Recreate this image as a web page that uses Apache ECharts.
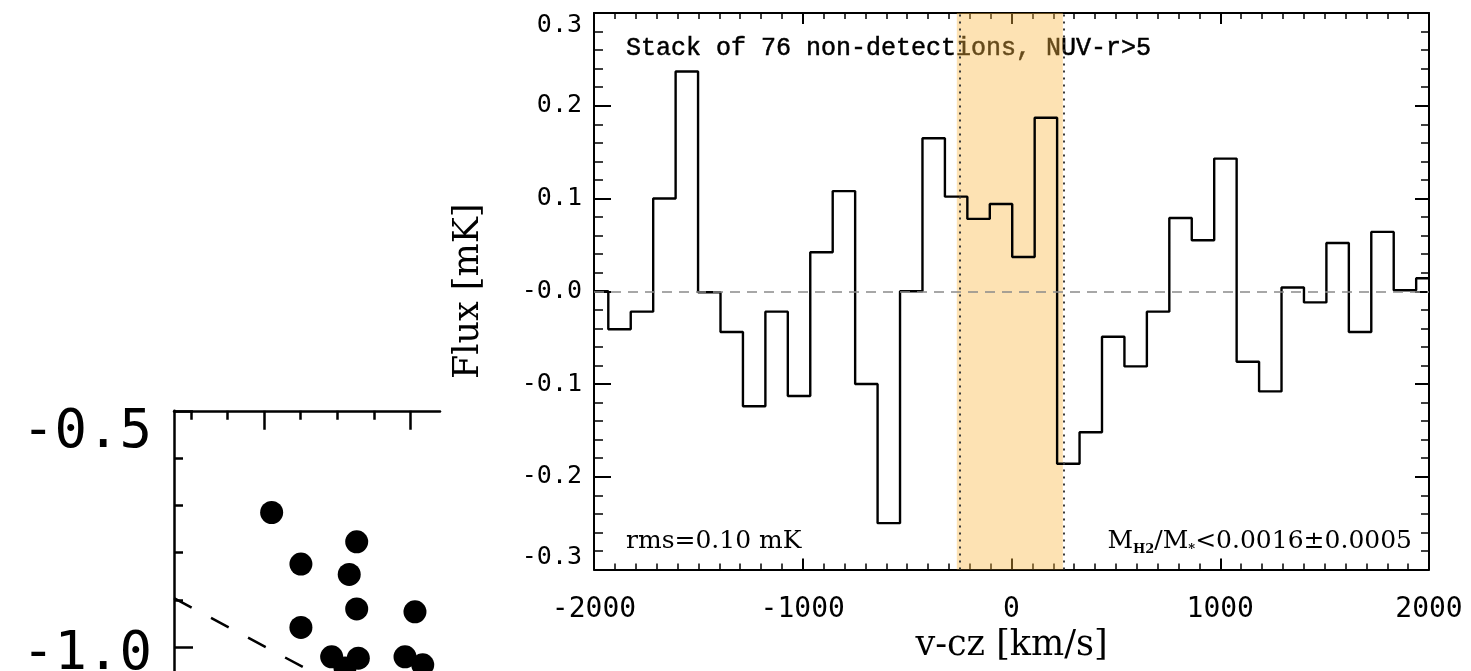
<!DOCTYPE html>
<html><head><meta charset="utf-8">
<script src="https://cdn.jsdelivr.net/npm/echarts@6/dist/echarts.min.js"></script>
<style>html,body{margin:0;padding:0;background:#fff;overflow:hidden}
#wrap{width:1471px;height:671px;overflow:hidden;position:relative}
#c{width:1471px;height:900px}</style>
</head><body><div id="wrap"><div id="c"></div></div>
<script>
// ---------- main panel data (stacked spectrum) ----------
// left edge of each velocity bin [km/s]
const binEdges = [-2000, -1931.5, -1824, -1716.5, -1609, -1501.5, -1394, -1286.5, -1179, -1071.5,
  -964, -856.5, -749, -641.5, -534, -426.5, -319, -211.5, -104, 3.5,
  111, 218.5, 326, 433.5, 541, 648.5, 756, 863.5, 971, 1078.5,
  1186, 1293.5, 1401, 1508.5, 1616, 1723.5, 1831, 1938.5];
// flux in each bin [mK]
const flux = [0.000, -0.041, -0.022, 0.100, 0.237, -0.001, -0.044, -0.124, -0.022, -0.113,
  0.042, 0.108, -0.100, -0.250, 0.000, 0.165, 0.102, 0.078, 0.094, 0.037,
  0.187, -0.186, -0.152, -0.049, -0.081, -0.022, 0.079, 0.055, 0.143, -0.076,
  -0.108, 0.004, -0.012, 0.052, -0.044, 0.064, 0.001, 0.014];
const velRange = [-2000, 2000];
const fluxRange = [-0.3, 0.3];
const bandRange = [-262, 246];      // shaded line window
const windowLines = [-248, 252];    // dotted lines
const stackLabel = 'Stack of 76 non-detections, NUV-r>5';
const rmsLabel = 'rms=0.10 mK';
const xTitle = 'v-cz [km/s]';
const yTitle = 'Flux [mK]';

// ---------- left (partial) panel data ----------
const scatterX = [5.052, 5.252, 5.633, 5.582, 5.633, 6.031, 5.252, 5.462, 5.644, 5.963, 6.084, 5.553];
const scatterY = [-0.715, -0.824, -0.777, -0.846, -0.919, -0.925, -0.958, -1.020, -1.023, -1.020, -1.037, -1.044];
const fitX = [4.385, 5.6];
const fitY = [-0.896, -1.097];
const leftXRange = [4.385, 6.202];
const leftXMajor = [5, 6];
const leftYRange = [-1.5, -0.5];

const histData = binEdges.map((e, i) => [e, flux[i]]);
histData.push([velRange[1], flux[flux.length - 1]]);

const BLACK = '#000';
const tickFont = 'DejaVu Sans Mono';

const chart = echarts.init(document.getElementById('c'), null, {renderer: 'canvas'});
const mirror = (pos, grid, extra) => Object.assign({
  gridIndex: grid, position: pos, type: 'value',
  axisLine: {show: true, onZero: false, lineStyle: {color: BLACK, width: 2}},
  axisLabel: {show: false}, splitLine: {show: false}
}, extra);

chart.setOption({
  backgroundColor: '#fff',
  animation: false,
  grid: [
    {left: 594, top: 13, width: 835, height: 556.5},
    {left: 174, top: 410.8, width: 266, height: 473}
  ],
  xAxis: [
    mirror('bottom', 0, {
      min: velRange[0], max: velRange[1], interval: 1000,
      axisTick: {inside: true, length: 11, lineStyle: {color: BLACK, width: 2}},
      minorTick: {show: true, splitNumber: 10, length: 6, lineStyle: {color: BLACK, width: 1.5}},
      axisLabel: {show: true, margin: 26, fontSize: 28, fontFamily: tickFont, color: BLACK,
        formatter: v => String(Math.round(v))},
      name: xTitle, nameLocation: 'middle', nameGap: 50,
      nameTextStyle: {fontFamily: 'DejaVu Serif', fontSize: 35, color: BLACK}
    }),
    mirror('top', 0, {
      min: velRange[0], max: velRange[1], interval: 1000,
      axisTick: {inside: true, length: 11, lineStyle: {color: BLACK, width: 2}},
      minorTick: {show: true, splitNumber: 10, length: 6, lineStyle: {color: BLACK, width: 1.5}}
    }),
    mirror('top', 1, {
      min: leftXRange[0], max: leftXRange[1], splitNumber: 2,
      axisLine: {show: true, onZero: false, lineStyle: {color: BLACK, width: 2.5}},
      axisTick: {inside: true, length: 19, customValues: leftXMajor, lineStyle: {color: BLACK, width: 2.5}},
      minorTick: {show: true, splitNumber: 4, length: 9, lineStyle: {color: BLACK, width: 2.5}}
    })
  ],
  yAxis: [
    mirror('left', 0, {
      min: fluxRange[0], max: fluxRange[1], interval: 0.1,
      axisTick: {inside: true, length: 17, lineStyle: {color: BLACK, width: 2}},
      minorTick: {show: true, splitNumber: 5, length: 9, lineStyle: {color: BLACK, width: 1.5}},
      axisLabel: {show: true, margin: 12, fontSize: 25, fontFamily: tickFont, color: BLACK,
        verticalAlignMinLabel: 'bottom', verticalAlignMaxLabel: 'top',
        formatter: v => Math.abs(v) < 1e-9 ? '-0.0' : v.toFixed(1)},
      name: yTitle, nameLocation: 'middle', nameGap: 108, nameRotate: 90,
      nameTextStyle: {fontFamily: 'DejaVu Serif', fontSize: 35, color: BLACK}
    }),
    mirror('right', 0, {
      min: fluxRange[0], max: fluxRange[1], interval: 0.1,
      axisTick: {inside: true, length: 14, lineStyle: {color: BLACK, width: 2}},
      minorTick: {show: true, splitNumber: 5, length: 8, lineStyle: {color: BLACK, width: 1.5}}
    }),
    mirror('left', 1, {
      min: leftYRange[0], max: leftYRange[1], interval: 0.5,
      axisLine: {show: true, onZero: false, lineStyle: {color: BLACK, width: 2.5}},
      axisTick: {inside: true, length: 19, lineStyle: {color: BLACK, width: 2.5}},
      minorTick: {show: true, splitNumber: 5, length: 9, lineStyle: {color: BLACK, width: 2.5}},
      axisLabel: {show: true, margin: 22,
        formatter: v => Math.abs(v + 0.5) < 1e-9 ? '{t|-0.5}' : (Math.abs(v + 1) < 1e-9 ? '{u|-1.0}' : ''),
        rich: {
          t: {fontSize: 54, fontFamily: tickFont, color: BLACK, padding: [44, 0, 0, 0]},
          u: {fontSize: 54, fontFamily: tickFont, color: BLACK, padding: [16, 0, 0, 0]}
        }}
    })
  ],
  series: [
    {
      type: 'line', xAxisIndex: 0, yAxisIndex: 0, step: 'end', symbol: 'none',
      lineStyle: {color: BLACK, width: 2.4}, data: histData,
      markLine: {
        silent: true, symbol: 'none', label: {show: false},
        lineStyle: {color: '#8a8a8a', width: 1.5, type: [10, 7]},
        data: [{yAxis: 0}]
      }
    },
    {
      type: 'line', xAxisIndex: 0, yAxisIndex: 0, zlevel: 1, data: [], symbol: 'none',
      markArea: {
        silent: true,
        itemStyle: {color: 'rgba(250,182,64,0.4)'},
        data: [[{xAxis: bandRange[0]}, {xAxis: bandRange[1]}]]
      },
      markLine: {
        silent: true, symbol: 'none', label: {show: false},
        lineStyle: {color: '#3a3a3a', width: 2, type: [2, 5]},
        data: windowLines.map(v => ({xAxis: v}))
      }
    },
    {
      type: 'scatter', xAxisIndex: 2, yAxisIndex: 2, symbolSize: 23,
      itemStyle: {color: BLACK, opacity: 1}, data: scatterX.map((x, i) => [x, scatterY[i]])
    },
    {
      type: 'line', xAxisIndex: 2, yAxisIndex: 2, symbol: 'none',
      lineStyle: {color: BLACK, width: 2.5, type: [20, 22]},
      data: fitX.map((x, i) => [x, fitY[i]])
    }
  ],
  graphic: [
    {type: 'text', x: 626, y: 48, style: {text: stackLabel, fontSize: 25, fontFamily: 'Liberation Mono',
      fill: BLACK, stroke: BLACK, lineWidth: 0.5, align: 'left', verticalAlign: 'middle'}},
    {type: 'text', x: 626, y: 541, style: {text: rmsLabel, fontSize: 25, fontFamily: 'DejaVu Serif',
      fill: BLACK, align: 'left', verticalAlign: 'middle'}},
    {type: 'text', x: 1412, y: 541, style: {
      text: '{m|M}{s|H2}{m|/M}{s|*}{m|<0.0016±0.0005}',
      align: 'right', verticalAlign: 'middle',
      rich: {
        m: {fontSize: 25, fontFamily: 'DejaVu Serif', fill: BLACK, lineHeight: 30},
        s: {fontSize: 13, fontFamily: 'DejaVu Serif', fontWeight: 'bold', fill: BLACK, verticalAlign: 'bottom', lineHeight: 30}
      }}}
  ]
});
</script>
</body></html>
